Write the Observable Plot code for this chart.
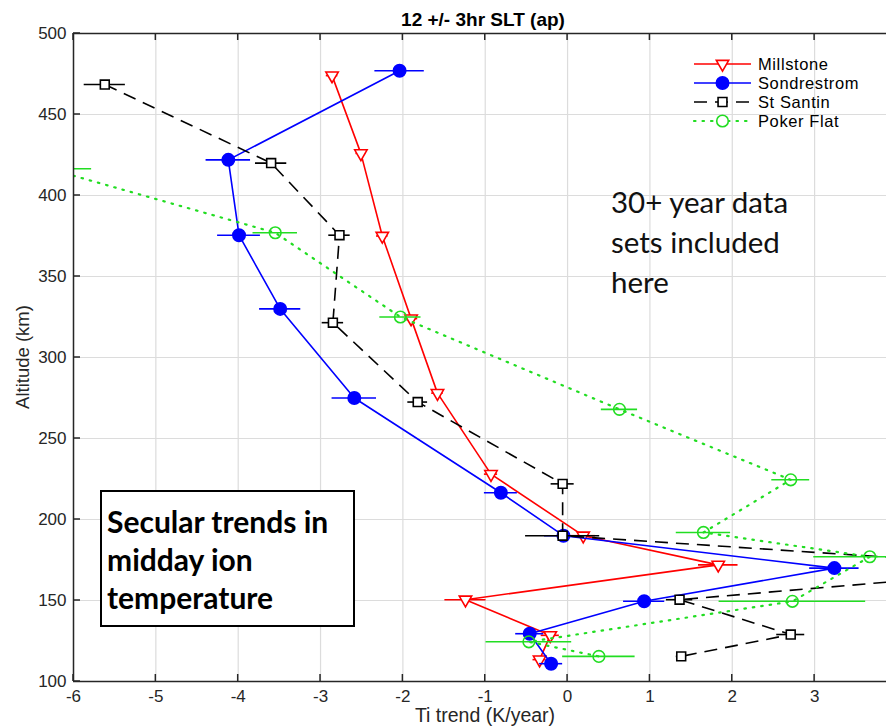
<!DOCTYPE html>
<html><head><meta charset="utf-8">
<script src="https://cdn.jsdelivr.net/npm/d3@7"></script>
<script src="https://cdn.jsdelivr.net/npm/@observablehq/plot@0.6"></script>
<style>
body{margin:0;background:#fff}
#chart{position:relative;width:886px;height:727px;overflow:hidden}
</style>
</head><body><div id="chart"></div>
<script>
// ---- data ----
const seriesNames = ["Millstone", "Sondrestrom", "St Santin", "Poker Flat"];
const seriesColors = ["#ff0000", "#0000ff", "#000000", "#22dd22"];

const millstoneAlt = [474, 426, 375, 324, 278, 228, 190, 172, 150.5, 128.5, 113.5];
const millstoneTrend = [-2.86, -2.51, -2.25, -1.90, -1.58, -0.93, 0.19, 1.83, -1.24, -0.21, -0.34];
const millstoneErr = [0.07, 0.06, 0.07, 0.08, 0.07, 0.08, 0.15, 0.24, 0.25, 0.11, 0.08];

const sondrestromAlt = [477, 422, 375.5, 330, 275, 216.5, 190, 170, 149.5, 129.5, 111];
const sondrestromTrend = [-2.04, -4.12, -3.99, -3.49, -2.59, -0.81, -0.05, 3.24, 0.93, -0.46, -0.20];
const sondrestromErr = [0.30, 0.27, 0.26, 0.25, 0.27, 0.20, 0.23, 0.30, 0.25, 0.17, 0.14];

const stSantinAlt = [468.5, 420, 375.5, 321.5, 272.5, 222, 190, 170, 150.5, 129, 115.5];
const stSantinTrend = [-5.62, -3.60, -2.77, -2.85, -1.82, -0.06, -0.06, 5.90, 1.36, 2.71, 1.38];
const stSantinErr = [0.25, 0.19, 0.13, 0.13, 0.12, 0.14, 0.45, 0.30, 0.16, 0.17, 0.06];

const pokerFlatAlt = [416.5, 377, 325, 268, 224.5, 192, 177, 149.5, 124.5, 115.5];
const pokerFlatTrend = [-6.30, -3.55, -2.03, 0.63, 2.71, 1.65, 3.67, 2.73, -0.47, 0.38];
const pokerFlatErr = [0.52, 0.27, 0.25, 0.22, 0.23, 0.33, 0.68, 0.89, 0.52, 0.44];

const xTicks = [-6, -5, -4, -3, -2, -1, 0, 1, 2, 3];
const yTicks = [100, 150, 200, 250, 300, 350, 400, 450, 500];
const xDomain = [-6, 3.873];
const yDomain = [100, 500];

const titleText = "12 +/- 3hr SLT (ap)";
const xLabel = "Ti trend (K/year)";
const yLabel = "Altitude (km)";
const noteRight = ["30+ year data", "sets included", "here"];
const noteBox = ["Secular trends in", "midday ion", "temperature"];

// ---- build tables ----
function rows(name, alt, x, err) {
  return alt.map((a, i) => ({series: name, alt: a, x: x[i], lo: x[i] - err[i], hi: x[i] + err[i]}));
}
const DOT = "1.5,7";
const sets = [
  {data: rows(seriesNames[0], millstoneAlt, millstoneTrend, millstoneErr), color: seriesColors[0], dash: null, symbol: "triangle", rotate: 180, r: 4.6, fill: "white"},
  {data: rows(seriesNames[1], sondrestromAlt, sondrestromTrend, sondrestromErr), color: seriesColors[1], dash: null, symbol: "circle", rotate: 0, r: 6.2, fill: seriesColors[1]},
  {data: rows(seriesNames[2], stSantinAlt, stSantinTrend, stSantinErr), color: seriesColors[2], dash: "13,8", symbol: "square", rotate: 0, r: 5.0, fill: "white"},
  {data: rows(seriesNames[3], pokerFlatAlt, pokerFlatTrend, pokerFlatErr), color: seriesColors[3], dash: DOT, symbol: "circle", rotate: 0, r: 5.8, fill: "none"}
];

const fmt = d => String(d);
const marks = [
  Plot.gridX(xTicks, {stroke: "#dcdcdc", strokeOpacity: 1, strokeWidth: 1.2}),
  Plot.gridY(yTicks, {stroke: "#dcdcdc", strokeOpacity: 1, strokeWidth: 1.2}),
  Plot.axisX(xTicks, {tickSize: 0, tickPadding: 8, label: null, fontSize: 17, tickFormat: fmt}),
  Plot.axisY(yTicks, {tickSize: 0, tickPadding: 7, label: null, fontSize: 17, tickFormat: fmt})
];
for (const s of sets) {
  marks.push(Plot.ruleY(s.data, {y: "alt", x1: "lo", x2: "hi", stroke: s.color, strokeWidth: 1.6, clip: true}));
  marks.push(Plot.line(s.data, {x: "x", y: "alt", stroke: s.color, strokeWidth: s.dash === DOT ? 2.2 : 1.6,
    strokeDasharray: s.dash, strokeLinecap: s.dash === DOT ? "round" : "butt", clip: true}));
  marks.push(Plot.dot(s.data, {x: "x", y: "alt", symbol: s.symbol, rotate: s.rotate, r: s.r,
    stroke: s.color, strokeWidth: 1.6, fill: s.fill, clip: true}));
}
marks.push(Plot.ruleX([xDomain[0]], {stroke: "#262626", strokeWidth: 1.5}));
marks.push(Plot.ruleY([yDomain[0], yDomain[1]], {stroke: "#262626", strokeWidth: 1.5}));

const plot = Plot.plot({
  width: 886, height: 727,
  marginLeft: 73, marginRight: 0, marginTop: 33, marginBottom: 46,
  x: {domain: xDomain},
  y: {domain: yDomain},
  style: {fontFamily: "'Liberation Sans', Arial, Helvetica, sans-serif", fontSize: "17px", color: "#262626", background: "white", overflow: "visible"},
  marks
});
document.getElementById("chart").appendChild(plot);

// ---- annotations, ticks, legend ----
const sx = plot.scale("x"), sy = plot.scale("y");
const svg = d3.select(plot);
const g = svg.append("g").attr("text-anchor", "start");
const X = v => sx.apply(v), Y = v => sy.apply(v);
const x0 = X(xDomain[0]), x1 = X(xDomain[1]), y0 = Y(yDomain[0]), y1 = Y(yDomain[1]);

// inward ticks
for (const t of xTicks) {
  g.append("line").attr("x1", X(t)).attr("x2", X(t)).attr("y1", y0).attr("y2", y0 - 7).attr("stroke", "#262626").attr("stroke-width", 1.5);
  g.append("line").attr("x1", X(t)).attr("x2", X(t)).attr("y1", y1).attr("y2", y1 + 7).attr("stroke", "#262626").attr("stroke-width", 1.5);
}
for (const t of yTicks) {
  g.append("line").attr("x1", x0).attr("x2", x0 + 7).attr("y1", Y(t)).attr("y2", Y(t)).attr("stroke", "#262626").attr("stroke-width", 1.5);
}

const font = "'Liberation Sans', Arial, Helvetica, sans-serif";
g.append("text").attr("x", 483).attr("y", 26).attr("text-anchor", "middle")
  .attr("font-family", font).attr("font-weight", "bold").attr("font-size", 19).attr("fill", "#000").text(titleText);
g.append("text").attr("x", 485).attr("y", 722).attr("text-anchor", "middle")
  .attr("font-family", font).attr("font-size", 19.5).attr("fill", "#262626").text(xLabel);
g.append("text").attr("transform", `translate(29,${(y0 + y1) / 2}) rotate(-90)`).attr("text-anchor", "middle")
  .attr("font-family", font).attr("font-size", 18.5).attr("fill", "#262626").text(yLabel);

// legend
const legY = [64, 83, 102, 121];
sets.forEach((s, i) => {
  const ly = legY[i];
  g.append("line").attr("x1", 694).attr("x2", 751).attr("y1", ly).attr("y2", ly)
    .attr("stroke", s.color).attr("stroke-width", s.dash === DOT ? 2.2 : 1.6)
    .attr("stroke-dasharray", s.dash)
    .attr("stroke-linecap", s.dash === DOT ? "round" : "butt");
  const sym = {triangle: d3.symbolTriangle, circle: d3.symbolCircle, square: d3.symbolSquare}[s.symbol];
  g.append("path").attr("d", d3.symbol(sym, Math.PI * s.r * s.r)())
    .attr("transform", `translate(722.5,${ly}) rotate(${s.rotate})`)
    .attr("fill", s.fill === "none" ? "white" : s.fill).attr("stroke", s.color).attr("stroke-width", 1.6);
  g.append("text").attr("x", 758).attr("y", ly + 6).attr("text-anchor", "start").attr("font-family", font).attr("font-size", 16.5)
    .attr("letter-spacing", 0.6).attr("fill", "#000").text(seriesNames[i]);
});

// right note
const note = g.append("text").attr("text-anchor", "start").attr("font-family", "Lato, 'Open Sans', sans-serif").attr("font-size", 29.5).attr("fill", "#111");
noteRight.forEach((t, i) => note.append("tspan").attr("x", 611).attr("y", 213 + i * 40).text(t));

// boxed note
g.append("rect").attr("x", 101).attr("y", 491).attr("width", 253).attr("height", 135)
  .attr("fill", "white").attr("stroke", "#000").attr("stroke-width", 2);
const bn = g.append("text").attr("text-anchor", "start").attr("font-family", "Lato, 'Open Sans', sans-serif").attr("font-weight", "bold").attr("font-size", 30).attr("fill", "#000");
noteBox.forEach((t, i) => bn.append("tspan").attr("x", 107).attr("y", 533 + i * 38).text(t));
</script>
</body></html>
